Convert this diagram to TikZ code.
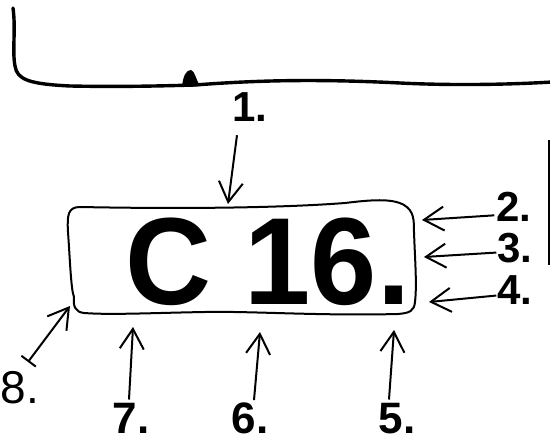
\documentclass[tikz,border=0pt]{standalone}
\usepackage{fontspec}
\setmainfont{Liberation Sans}
\usetikzlibrary{arrows.meta,positioning}

\begin{document}
\begin{tikzpicture}[x=1pt,y=-1pt]
    % Setup the styles
        \tikzset{plate text/.style={inner sep=0pt, anchor=base, xscale=0.96,
                                    font=\fontsize{124}{124}\selectfont\bfseries},
                 num label/.style={inner sep=0pt, anchor=base,
                                   font=\fontsize{42}{42}\selectfont\bfseries},
                 low label/.style={inner sep=0pt, anchor=base,
                                   font=\fontsize{44}{44}\selectfont\bfseries},
                 pointer/.style={line width=2pt,
                                 -{Straight Barb[length=20pt,width=24pt]}},
                 rim/.style={line width=2pt, line join=round}}
        \useasboundingbox (0,0) rectangle (550,446);
        % Draw the edge on top and the edge on the right
        \draw[line width=3.4pt, line cap=round]
            (13,8) .. controls (16,30) and (12,50) .. (15,66)
            .. controls (17,80) and (30,84) .. (70,86)
            .. controls (120,87) and (160,86) .. (195,85)
            .. controls (260,80) and (320,79) .. (400,83)
            .. controls (460,86) and (520,84) .. (552,82);
        \fill (182,87) .. controls (183,76) and (186,70) .. (191,70)
            .. controls (195,71) and (196,80) .. (200,86) -- cycle;
        \draw[line width=3pt] (549,140) -- (549,265);
        % Draw the plate
        \draw[rim]
            (80,207) .. controls (180,209) and (280,208) .. (345,203)
            .. controls (370,200) and (392,198) .. (404,205)
            .. controls (414,211) and (414,220) .. (414,232)
            .. controls (415,260) and (417,285) .. (415,302)
            .. controls (414,311) and (410,313) .. (398,314)
            .. controls (320,316) and (250,311) .. (205,312)
            .. controls (150,313) and (110,315) .. (84,313)
            .. controls (75,312) and (73,306) .. (74,297)
            .. controls (71,290) and (70,260) .. (68,232)
            .. controls (67,215) and (68,207) .. (80,207);
        \node[plate text] at (268,305) (plate) {C 16.};
        % Draw the labels
        \node[num label] at (250,122) (lbl1) {1.};
        \node[num label] at (514,222) (lbl2) {2.};
        \node[num label] at (515,263) (lbl3) {3.};
        \node[num label] at (515,305) (lbl4) {4.};
        \node[low label] at (397,434) (lbl5) {5.};
        \node[low label] at (250,434) (lbl6) {6.};
        \node[low label] at (131,434) (lbl7) {7.};
        \node[inner sep=0pt, anchor=base, font=\fontsize{46}{46}\selectfont]
            at (20,404) (lbl8) {8.};
        % Points on the plate
        \coordinate (tip1) at (228,204);
        \coordinate (tip2) at (422,220);
        \coordinate (tip3) at (424,257);
        \coordinate (tip4) at (429,302);
        \coordinate (tip5) at (394,330);
        \coordinate (tip6) at (260,332);
        \coordinate (tip7) at (133,327);
        \coordinate (tip8) at (70,306);
        \coordinate (foot8) at (28,362);
        % Connect the labels with arrows
        \draw[pointer] ([xshift=-13pt,yshift=-13pt]lbl1.south) -- (tip1);
        \draw[pointer] ([xshift=-2pt,yshift=-8pt]lbl2.west) -- (tip2);
        \draw[pointer] ([xshift=-1pt,yshift=-4pt]lbl3.west) -- (tip3);
        \draw[pointer] ([xshift=-1pt,yshift=-5pt]lbl4.west) -- (tip4);
        \draw[pointer] ([xshift=-8pt,yshift=4pt]lbl5.north) -- (tip5);
        \draw[pointer] ([xshift=4pt,yshift=3pt]lbl6.north) -- (tip6);
        \draw[pointer] ([xshift=-2pt,yshift=4pt]lbl7.north) -- (tip7);
        \draw[pointer, {Bar[width=18pt]}-{Straight Barb[length=20pt,width=24pt]}]
            (foot8) -- (tip8);
\end{tikzpicture}
\end{document}
